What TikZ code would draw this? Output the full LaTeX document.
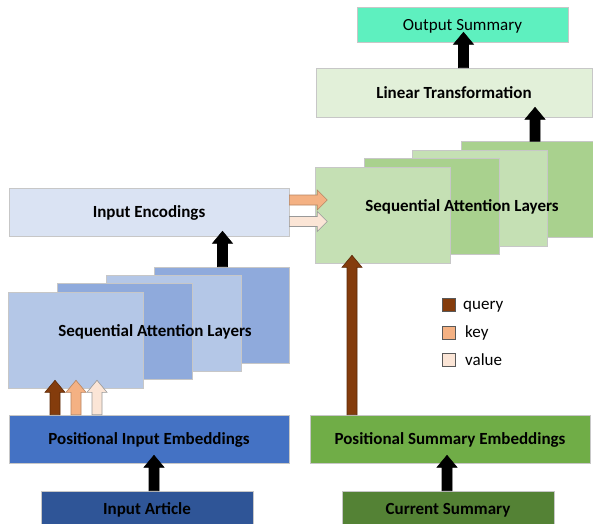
\documentclass[tikz,border=0pt]{standalone}
\usepackage{fontspec}
\setmainfont{Carlito}
\usetikzlibrary{calc}
\definecolor{cOut}{HTML}{5EF0BF}
\definecolor{cLin}{HTML}{E2F0D9}
\definecolor{gLight}{HTML}{C5E0B4}
\definecolor{gDark}{HTML}{A9D18E}
\definecolor{cIE}{HTML}{DAE3F3}
\definecolor{bLight}{HTML}{B4C7E7}
\definecolor{bDark}{HTML}{8FAADC}
\definecolor{cPIE}{HTML}{4472C4}
\definecolor{cIA}{HTML}{2F5597}
\definecolor{cPSE}{HTML}{70AD47}
\definecolor{cCS}{HTML}{548235}
\definecolor{cQ}{HTML}{843C0C}
\definecolor{cK}{HTML}{F4B183}
\definecolor{cV}{HTML}{FBE5D6}
\tikzset{
  box/.style={draw=black!22, line width=0.6pt, inner sep=0pt, text height=15pt, text depth=4pt, font=\bfseries\fontsize{17}{20}\selectfont},
  layer/.style={draw=black!22, line width=0.6pt, minimum width=135pt, minimum height=96pt, inner sep=0pt},
  bigtext/.style={font=\bfseries\fontsize{17}{20}\selectfont, text height=15pt, text depth=4pt, inner sep=0pt},
  legtext/.style={font=\fontsize{17}{20}\selectfont, text height=15pt, text depth=4pt, inner sep=0pt, anchor=west},
  legsq/.style={draw=black!65, line width=0.6pt, minimum size=13pt, inner sep=0pt},
  uparr/.style={line width=0.6pt, to path={
    ($(\tikztostart)+(-5pt,0pt)$) -- ($(\tikztotarget)+(-5pt,-12pt)$) -- ($(\tikztotarget)+(-10pt,-12pt)$) -- (\tikztotarget)
    -- ($(\tikztotarget)+(10pt,-12pt)$) -- ($(\tikztotarget)+(5pt,-12pt)$) -- ($(\tikztostart)+(5pt,0pt)$) -- cycle}},
  rarr/.style={line width=0.6pt, to path={
    ($(\tikztostart)+(0pt,5pt)$) -- ($(\tikztotarget)+(-10pt,5pt)$) -- ($(\tikztotarget)+(-10pt,10pt)$) -- (\tikztotarget)
    -- ($(\tikztotarget)+(-10pt,-10pt)$) -- ($(\tikztotarget)+(-10pt,-5pt)$) -- ($(\tikztostart)+(0pt,-5pt)$) -- cycle}},
  blackarr/.style={uparr, fill=black, draw=black},
}
\begin{document}
\begin{tikzpicture}[x=1pt,y=-1pt]
\fill[white] (0,0) rectangle (593,523);
\useasboundingbox (0,0) rectangle (593,523);
\clip (0,0) rectangle (593,523);

% top right
\node[box, fill=cOut, minimum width=211pt, minimum height=35pt, font=\fontsize{17}{20}\selectfont] (out) at (462.5,24.5) {Output Summary};
\node[box, fill=cLin, minimum width=276pt, minimum height=49pt] (lin) at (454,92.5) {Linear Transformation};

% right attention layers
\node[layer, fill=gDark] (r4) at (528.5,189.5) {};
\node[layer, fill=gLight] (r3) at (480,198) {};
\node[layer, fill=gDark] (r2) at (431.5,206.5) {};
\node[layer, fill=gLight] (r1) at (383,215) {};
\node[bigtext] (rsal) at (462,206) {Sequential Attention Layers};

% left side
\node[box, fill=cIE, minimum width=280pt, minimum height=48pt] (ie) at (149,212) {Input Encodings};
\node[layer, fill=bDark] (l4) at (221.5,315) {};
\node[layer, fill=bLight] (l3) at (173.5,323.5) {};
\node[layer, fill=bDark] (l2) at (125,331.5) {};
\node[layer, fill=bLight] (l1) at (76,340) {};
\node[bigtext] (lsal) at (155,331) {Sequential Attention Layers};

% bottom
\node[box, fill=cPIE, minimum width=280pt, minimum height=48pt] (pie) at (149,439) {Positional Input Embeddings};
\node[box, fill=cIA, minimum width=212pt, minimum height=36pt] (ia) at (147,509) {Input Article};
\node[box, fill=cPSE, minimum width=280pt, minimum height=48pt] (pse) at (450,439) {Positional Summary Embeddings};
\node[box, fill=cCS, minimum width=212pt, minimum height=36pt] (cs) at (448,509) {Current Summary};

% legend
\node[legsq, fill=cQ] (sq) at (448.5,305) {};
\node[legsq, fill=cK] (sk) at (448.5,332.5) {};
\node[legsq, fill=cV] (sv) at (448.5,360) {};
\node[legtext] (tq) at (463,303.5) {query};
\node[legtext] (tk) at (465,331.5) {key};
\node[legtext] (tv) at (465,359.5) {value};

% black arrows
\draw[blackarr] ([xshift=7pt]ia.north) to ([xshift=5pt,yshift=8pt]pie.south);
\draw[blackarr] ([xshift=-1pt]cs.north) to ([xshift=-3pt,yshift=8pt]pse.south);
\draw[blackarr] ([xshift=1pt]l4.north) to ([xshift=73.5pt,yshift=5pt]ie.south);
\draw[blackarr] ([xshift=6.5pt]r4.north) to ([xshift=81pt,yshift=10pt]lin.south);
\draw[blackarr] ([xshift=9.5pt]lin.north) to ([xshift=1pt,yshift=10pt]out.south);

% query / key / value into left layers
\draw[uparr, fill=cQ, draw=cQ!70!black] ([xshift=-94pt]pie.north) to ([xshift=-21pt,yshift=8pt]l1.south);
\draw[uparr, fill=cK, draw=cK!75!black] ([xshift=-73pt]pie.north) to ([xshift=0pt,yshift=8pt]l1.south);
\draw[uparr, fill=cV, draw=black!40] ([xshift=-52pt]pie.north) to ([xshift=21pt,yshift=8pt]l1.south);

% into right layers
\draw[rarr, fill=cK, draw=cK!75!black] ([yshift=12pt]ie.east) to ([xshift=12pt,yshift=15pt]r1.west);
\draw[rarr, fill=cV, draw=black!40] ([yshift=-9.5pt]ie.east) to ([xshift=12pt,yshift=-6.5pt]r1.west);
\draw[uparr, fill=cQ, draw=cQ!70!black] ([xshift=-98pt]pse.north) to ([xshift=-31pt,yshift=8pt]r1.south);
\end{tikzpicture}
\end{document}
